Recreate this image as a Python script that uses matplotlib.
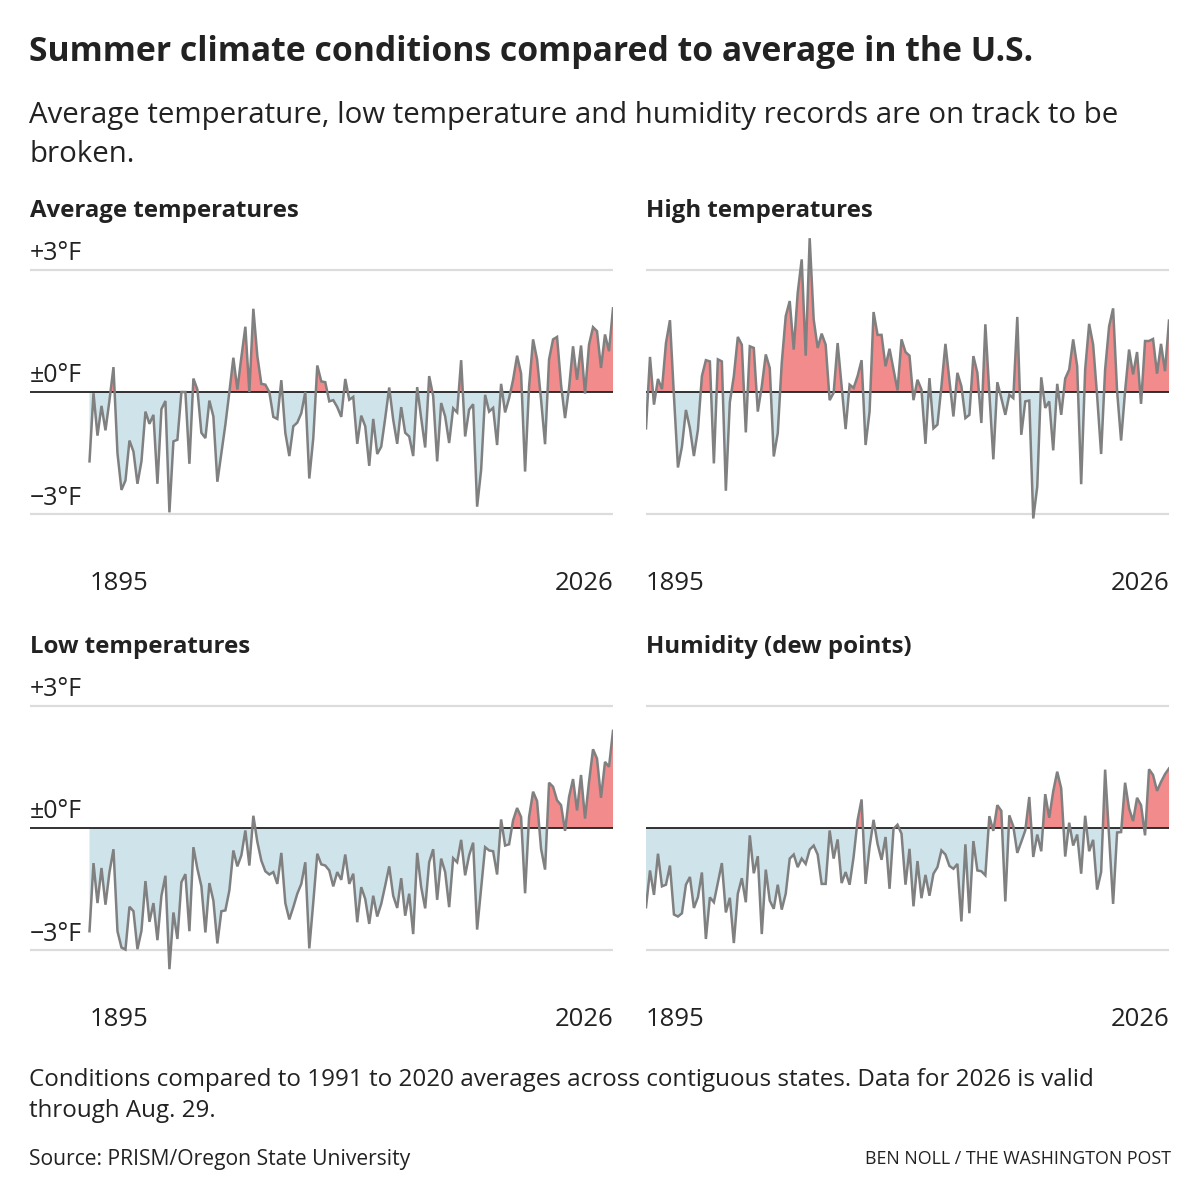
import numpy as np
import matplotlib
matplotlib.use("Agg")
import matplotlib.pyplot as plt
import matplotlib.transforms as mtransforms

plt.rcParams['font.family'] = ['Open Sans', 'DejaVu Sans']

# anomalies vs 1991-2020, one value per summer, 1895..2026
years = np.arange(1895, 2027)

avg_temp = [
    -1.70, -0.03, -1.07, -0.34, -0.94, -0.20, 0.61, -1.50, -2.40, -2.17,
    -1.19, -1.46, -2.25, -1.70, -0.48, -0.78, -0.56, -2.25, -0.42, -0.22,
    -2.95, -1.21, -1.17, 0.00, 0.00, -1.76, 0.33, 0.06, -1.00, -1.13,
    -0.21, -0.60, -2.20, -1.50, -0.80, 0.00, 0.84, 0.06, 0.85, 1.60,
    0.00, 2.04, 0.88, 0.20, 0.18, 0.00, -0.61, -0.66, 0.29, -1.00,
    -1.57, -0.84, -0.75, -0.52, 0.00, -2.12, -1.13, 0.65, 0.26, 0.24,
    -0.23, -0.20, -0.37, -0.61, 0.32, -0.19, -0.12, -1.27, -0.58, -0.84,
    -1.81, -0.66, -1.52, -1.34, -0.64, 0.11, -0.68, -1.27, -0.37, -1.00,
    -1.09, -1.57, 0.12, -0.64, -1.36, 0.39, -0.10, -1.70, -0.27, -0.60,
    -1.25, -0.40, -0.50, 0.78, -1.09, -0.43, -0.30, -2.81, -1.91, -0.07,
    -0.48, -0.39, -1.30, 0.20, -0.50, -0.15, 0.30, 0.89, 0.45, -1.95,
    0.14, 1.29, 0.80, -0.19, -1.28, 0.80, 1.29, 1.35, 0.18, -0.64,
    0.10, 1.12, 0.30, 1.14, -0.04, 1.16, 1.59, 1.49, 0.59, 1.41,
    1.00, 2.05,
]

high_temp = [
    -0.89, 0.86, -0.31, 0.32, 0.07, 1.20, 1.76, -0.10, -1.85, -1.34,
    -0.44, -0.89, -1.57, -0.93, 0.39, 0.78, 0.75, -1.75, 0.80, 0.75,
    -2.42, -0.25, 0.39, 1.35, 1.16, -0.99, 1.12, 1.08, -0.48, 0.14,
    0.92, 0.59, -1.58, -1.01, 0.71, 1.86, 2.23, 1.04, 2.43, 3.25,
    0.89, 3.77, 1.78, 1.08, 1.43, 1.16, -0.20, -0.02, 1.20, 0.14,
    -0.91, 0.18, 0.10, 0.39, 0.78, -1.30, -0.48, 1.96, 1.40, 1.40,
    0.63, 1.06, 0.55, 0.04, 1.29, 0.98, 0.89, -0.20, 0.30, 0.06,
    -1.27, 0.34, -0.89, -0.80, 0.14, 1.18, 0.30, -0.60, 0.47, 0.14,
    -0.64, -0.56, 0.88, 0.47, -0.76, 1.66, -0.02, -1.65, 0.24, -0.15,
    -0.56, -0.07, -0.15, 1.84, -1.05, -0.23, -0.21, -3.10, -2.32, 0.36,
    -0.39, -0.23, -1.43, 0.20, -0.56, 0.33, 0.55, 1.29, 0.63, -2.26,
    0.55, 1.67, 1.16, -0.10, -1.52, 0.55, 1.61, 2.05, 0.02, -1.19,
    0.02, 1.04, 0.43, 0.98, -0.29, 1.25, 1.25, 1.30, 0.45, 1.18,
    0.51, 1.75,
]

low_temp = [
    -2.53, -0.86, -1.84, -0.98, -1.88, -1.08, -0.52, -2.53, -2.93, -2.98,
    -1.93, -2.04, -2.97, -2.52, -1.30, -2.30, -1.84, -2.75, -1.66, -1.17,
    -3.46, -2.07, -2.72, -1.33, -1.13, -2.53, -0.47, -1.00, -1.43, -2.56,
    -1.35, -1.78, -2.83, -2.04, -2.02, -1.53, -0.55, -0.94, -0.67, -0.06,
    -0.92, 0.30, -0.34, -0.80, -1.06, -1.14, -1.08, -1.37, -0.61, -1.84,
    -2.24, -1.94, -1.61, -1.37, -0.84, -2.95, -1.82, -0.63, -0.89, -0.92,
    -1.04, -1.43, -1.08, -1.27, -0.65, -1.37, -1.12, -2.31, -1.45, -1.74,
    -2.35, -1.66, -2.17, -1.86, -1.41, -0.94, -1.66, -1.96, -1.23, -2.15,
    -1.61, -2.60, -0.61, -1.45, -1.97, -0.84, -0.52, -1.76, -0.75, -1.08,
    -1.94, -0.74, -0.84, -0.29, -1.16, -0.67, -0.36, -2.49, -1.49, -0.47,
    -0.55, -0.57, -1.14, 0.21, -0.43, -0.40, 0.19, 0.49, 0.27, -1.60,
    0.27, 0.89, 0.66, -0.51, -1.02, 1.11, 1.01, 0.68, 0.56, -0.07,
    0.76, 1.20, 0.43, 1.30, 0.23, 1.13, 1.93, 1.70, 0.74, 1.62,
    1.50, 2.38,
]

dew_point = [
    -1.94, -1.04, -1.64, -0.63, -1.43, -1.39, -0.92, -2.12, -2.17, -2.09,
    -1.39, -1.20, -1.96, -1.70, -1.09, -2.72, -1.70, -1.82, -1.34, -0.86,
    -2.07, -1.71, -2.82, -1.61, -1.23, -1.82, -0.18, -1.11, -0.69, -2.60,
    -1.02, -1.78, -1.98, -1.39, -2.00, -1.61, -0.75, -0.65, -0.96, -0.75,
    -0.88, -0.53, -0.43, -0.65, -1.37, -1.37, -0.06, -0.75, -0.28, -1.35,
    -1.08, -1.39, -0.71, 0.19, 0.70, -1.37, -0.47, 0.20, -0.39, -0.78,
    -0.22, -1.49, -0.02, 0.08, -0.14, -1.39, -0.51, -1.92, -0.81, -1.72,
    -1.15, -1.66, -1.12, -0.96, -0.55, -0.65, -0.93, -1.00, -0.88, -2.29,
    -0.40, -2.09, -0.32, -1.04, -1.06, -1.16, 0.29, -0.07, 0.56, 0.42,
    -1.80, 0.31, 0.04, -0.61, -0.34, -0.06, 0.76, -0.71, -0.16, -0.57,
    0.83, 0.25, 0.90, 1.38, 0.97, -0.70, 0.13, -0.43, -0.16, -1.12,
    0.30, -0.57, -0.29, -1.51, -1.08, 1.43, -0.22, -1.86, -0.11, -0.10,
    1.11, 0.48, 0.17, 0.74, 0.56, -0.18, 1.44, 1.30, 0.91, 1.13,
    1.32, 1.46,
]

panel_titles = ["Average temperatures", "High temperatures",
                "Low temperatures", "Humidity (dew points)"]
tick_vals = [3, 0, -3]
tick_labels = ["+3°F", "±0°F", "\u22123°F"]

W = H = 1200
RED = "#f28b8b"
BLUE = "#cfe4ea"
LINE = "#808080"
TXT = "#222222"

fig = plt.figure(figsize=(12, 12), dpi=100)
fig.patch.set_facecolor("white")

def fx(px):
    return px / W

def fy(py):
    return 1 - py / H

# pixel layout of the four panels: (axes left, data x0, data x1, zero line y, title y)
layout = [
    (30, 89.5, 613, 392, 211),
    (646, 646, 1169, 392, 211),
    (30, 89.5, 613, 828, 647),
    (646, 646, 1169, 828, 647),
]
series = [avg_temp, high_temp, low_temp, dew_point]
PX_PER_DEG = 40.8
YTOP, YBOT = 4.0, -3.6

for k, (left, x0, x1, zero_px, title_px) in enumerate(layout):
    vals = np.array(series[k])
    step = (x1 - x0) / (len(years) - 1)
    xmin = years[0] - (x0 - left) / step
    top_px = zero_px - YTOP * PX_PER_DEG
    bot_px = zero_px - YBOT * PX_PER_DEG
    ax = fig.add_axes([fx(left), fy(bot_px), fx(x1) - fx(left), (bot_px - top_px) / H])
    ax.set_xlim(xmin, years[-1])
    ax.set_ylim(YBOT, YTOP)
    ax.axis("off")

    for t in (3, -3):
        ax.axhline(t, color="#dcdcdc", lw=1.6, zorder=1)
    ax.fill_between(years, vals, 0, where=vals >= 0, interpolate=True,
                    color=RED, lw=0, zorder=2)
    ax.fill_between(years, vals, 0, where=vals <= 0, interpolate=True,
                    color=BLUE, lw=0, zorder=2)
    ax.axhline(0, color=TXT, lw=1.3, zorder=3)
    ax.plot(years, vals, color=LINE, lw=1.8, zorder=4, solid_joinstyle="miter")

    trans = mtransforms.blended_transform_factory(ax.transAxes, ax.transData)
    if k % 2 == 0:
        for v, lab in zip(tick_vals, tick_labels):
            ax.text(0, v + 0.40, lab, transform=trans, ha="left", va="center",
                    fontsize=18, color=TXT)
    ax.text(years[0], -4.70, str(years[0]), ha="left", va="center",
            fontsize=18.5, color=TXT, clip_on=False)
    ax.text(years[-1], -4.70, str(years[-1]), ha="right", va="center",
            fontsize=18.5, color=TXT, clip_on=False)

    fig.text(fx(left), fy(title_px), panel_titles[k], ha="left", va="center",
             fontsize=17.3, fontweight="bold", color=TXT)

fig.text(fx(29), fy(52), "Summer climate conditions compared to average in the U.S.",
         ha="left", va="center", fontsize=24.3, fontweight="bold", color=TXT)
fig.text(fx(29), fy(116), "Average temperature, low temperature and humidity records are on track to be",
         ha="left", va="center", fontsize=21.2, color=TXT)
fig.text(fx(29), fy(155), "broken.", ha="left", va="center", fontsize=21.2, color=TXT)

fig.text(fx(29), fy(1080), "Conditions compared to 1991 to 2020 averages across contiguous states. Data for 2026 is valid",
         ha="left", va="center", fontsize=17.4, color=TXT)
fig.text(fx(29), fy(1111), "through Aug. 29.", ha="left", va="center", fontsize=17.4, color=TXT)
fig.text(fx(29), fy(1160), "Source: PRISM/Oregon State University", ha="left", va="center",
         fontsize=15.2, color=TXT)
fig.text(fx(1171), fy(1159), "BEN NOLL / THE WASHINGTON POST", ha="right", va="center",
         fontsize=12.8, color=TXT)

fig.savefig("out.png", dpi=100, facecolor="white")
